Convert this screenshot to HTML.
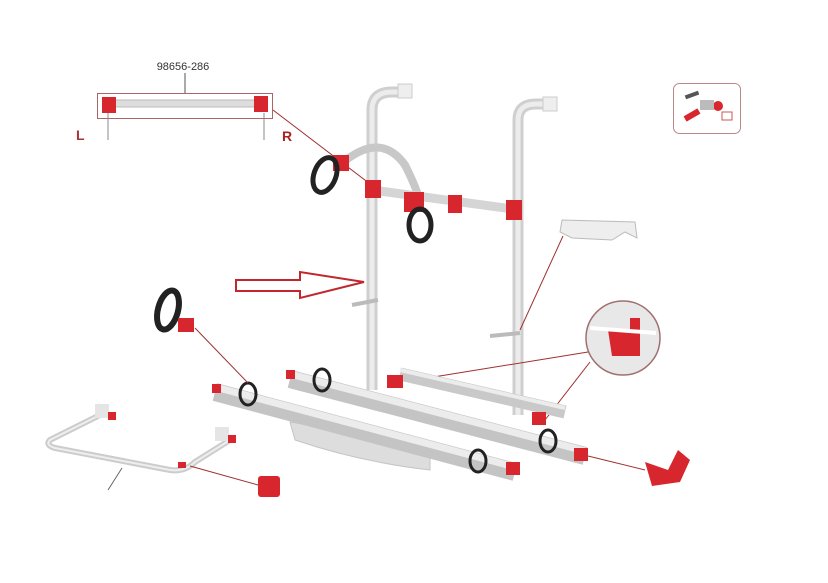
<!DOCTYPE html>
<html><head><style>
html,body{margin:0;padding:0;background:#fff;}
svg{display:block;}
text{font-family:"Liberation Sans",sans-serif;}
</style></head><body>
<svg width="828" height="583" viewBox="0 0 828 583" xmlns="http://www.w3.org/2000/svg">
<!-- top-left part -->
<text x="183" y="70" font-size="11" text-anchor="middle" fill="#333">98656-286</text>
<line x1="185" y1="73" x2="185" y2="93" stroke="#555" stroke-width="1"/>
<rect x="97.5" y="93.5" width="175" height="25" fill="none" stroke="#a66" stroke-width="1"/>
<rect x="110" y="100" width="150" height="7" fill="#ddd" stroke="#bbb"/>
<rect x="102" y="97" width="14" height="16" fill="#d8262e"/>
<rect x="254" y="96" width="14" height="16" fill="#d8262e"/>
<line x1="108" y1="113" x2="108" y2="140" stroke="#888"/>
<line x1="264" y1="113" x2="264" y2="140" stroke="#888"/>
<text x="76" y="140" font-size="14" font-weight="bold" fill="#a33">L</text>
<text x="282" y="141" font-size="14" font-weight="bold" fill="#a22">R</text>
<line x1="273" y1="110" x2="378" y2="190" stroke="#a03030" stroke-width="1"/>
<!-- top-right icon -->
<rect x="673.5" y="83.5" width="67" height="50" rx="6" fill="#fff" stroke="#b88"/>
<rect x="684" y="112" width="16" height="6" fill="#d8262e" transform="rotate(-30 692 115)"/>
<circle cx="718" cy="106" r="5" fill="#d8262e"/>
<rect x="685" y="93" width="14" height="4" fill="#555" transform="rotate(-20 692 95)"/>
<rect x="700" y="100" width="14" height="10" fill="#bbb"/>
<rect x="722" y="112" width="10" height="8" fill="none" stroke="#c55"/>
<!-- uprights -->
<path d="M372 390 L372 110 Q372 92 392 92 L402 92" fill="none" stroke="#cfcfcf" stroke-width="11"/>
<path d="M372 390 L372 110 Q372 92 392 92 L402 92" fill="none" stroke="#ececec" stroke-width="5"/>
<rect x="398" y="84" width="14" height="14" fill="#eee" stroke="#ccc"/>
<path d="M518 415 L518 120 Q518 104 536 104 L546 104" fill="none" stroke="#cfcfcf" stroke-width="11"/>
<path d="M518 415 L518 120 Q518 104 536 104 L546 104" fill="none" stroke="#ececec" stroke-width="5"/>
<rect x="543" y="97" width="14" height="14" fill="#eee" stroke="#ccc"/>
<!-- crossbar and hoop -->
<path d="M340 165 Q380 130 405 165 Q420 195 420 205" fill="none" stroke="#c8c8c8" stroke-width="8"/>
<line x1="372" y1="190" x2="520" y2="210" stroke="#d5d5d5" stroke-width="9"/>
<rect x="365" y="180" width="16" height="18" fill="#d8262e"/>
<rect x="506" y="200" width="16" height="20" fill="#d8262e"/>
<rect x="404" y="192" width="20" height="20" fill="#d8262e"/>
<rect x="448" y="195" width="14" height="18" fill="#d8262e"/>
<rect x="333" y="155" width="16" height="16" fill="#d8262e"/>
<ellipse cx="325" cy="175" rx="11" ry="18" fill="none" stroke="#222" stroke-width="5" transform="rotate(20 325 175)"/>
<ellipse cx="420" cy="225" rx="11" ry="16" fill="none" stroke="#222" stroke-width="5"/>
<!-- foot pegs -->
<line x1="352" y1="305" x2="378" y2="300" stroke="#bbb" stroke-width="4"/>
<line x1="490" y1="336" x2="520" y2="333" stroke="#bbb" stroke-width="4"/>
<!-- arrow -->
<path d="M236 280 L300 280 L300 272 L364 282 L300 298 L300 291 L236 291 Z" fill="none" stroke="#c0282e" stroke-width="2"/>
<!-- hook -->
<path d="M562 220 L635 222 L637 238 L625 232 L612 240 L572 238 L560 232 Z" fill="#eee" stroke="#bbb"/>
<line x1="563" y1="236" x2="520" y2="330" stroke="#a03030"/>
<!-- circle inset -->
<circle cx="623" cy="338" r="37" fill="#e8e8e8" stroke="#a07070" stroke-width="1.5"/>
<path d="M608 330 L630 330 L630 318 L640 318 L640 356 L612 356 Z" fill="#d8262e"/>
<line x1="590" y1="328" x2="656" y2="333" stroke="#fff" stroke-width="4"/>
<line x1="588" y1="352" x2="415" y2="380" stroke="#a03030"/>
<line x1="590" y1="362" x2="545" y2="420" stroke="#a03030"/>
<!-- rails -->
<path d="M290 422 L430 445 L430 470 Q360 462 295 440 Z" fill="#ddd" stroke="#c5c5c5"/>
<line x1="400" y1="374" x2="565" y2="412" stroke="#c9c9c9" stroke-width="13"/>
<line x1="400" y1="370" x2="565" y2="408" stroke="#ececec" stroke-width="4"/>
<line x1="290" y1="379" x2="585" y2="456" stroke="#c4c4c4" stroke-width="18"/>
<line x1="290" y1="374" x2="585" y2="451" stroke="#ececec" stroke-width="7"/>
<line x1="215" y1="392" x2="515" y2="472" stroke="#c4c4c4" stroke-width="18"/>
<line x1="215" y1="387" x2="515" y2="467" stroke="#ececec" stroke-width="7"/>
<rect x="574" y="448" width="14" height="13" fill="#d8262e"/>
<rect x="506" y="462" width="14" height="13" fill="#d8262e"/>
<rect x="387" y="375" width="16" height="13" fill="#d8262e"/>
<rect x="532" y="412" width="14" height="13" fill="#d8262e"/>
<rect x="286" y="370" width="9" height="9" fill="#d8262e"/>
<rect x="212" y="384" width="9" height="9" fill="#d8262e"/>
<ellipse cx="248" cy="394" rx="8" ry="11" fill="none" stroke="#222" stroke-width="3"/>
<ellipse cx="322" cy="380" rx="8" ry="11" fill="none" stroke="#222" stroke-width="3"/>
<ellipse cx="548" cy="441" rx="8" ry="11" fill="none" stroke="#222" stroke-width="3"/>
<ellipse cx="478" cy="461" rx="8" ry="11" fill="none" stroke="#222" stroke-width="3"/>
<!-- foot -->
<line x1="588" y1="456" x2="645" y2="470" stroke="#a03030"/>
<path d="M645 462 L668 470 L678 450 L690 460 L680 482 L652 486 Z" fill="#d8262e"/>
<!-- strap -->
<ellipse cx="168" cy="310" rx="10" ry="20" fill="none" stroke="#222" stroke-width="6" transform="rotate(15 168 310)"/>
<rect x="178" y="318" width="16" height="14" fill="#d8262e"/>
<line x1="195" y1="328" x2="248" y2="383" stroke="#a03030"/>
<!-- bottom-left frame -->
<path d="M100 415 L50 440 Q45 445 55 448 L170 470 Q185 472 195 462 L230 440" fill="none" stroke="#ccc" stroke-width="6"/>
<path d="M100 415 L50 440 Q45 445 55 448 L170 470 Q185 472 195 462 L230 440" fill="none" stroke="#eee" stroke-width="2"/>
<rect x="95" y="404" width="14" height="14" fill="#e5e5e5"/>
<rect x="108" y="412" width="8" height="8" fill="#d8262e"/>
<rect x="215" y="427" width="14" height="14" fill="#e5e5e5"/>
<rect x="228" y="435" width="8" height="8" fill="#d8262e"/>
<rect x="178" y="462" width="8" height="6" fill="#d8262e"/>
<line x1="122" y1="468" x2="108" y2="490" stroke="#666"/>
<line x1="190" y1="466" x2="258" y2="485" stroke="#a03030"/>
<rect x="258" y="476" width="22" height="21" rx="3" fill="#d8262e"/>
</svg>
</body></html>
